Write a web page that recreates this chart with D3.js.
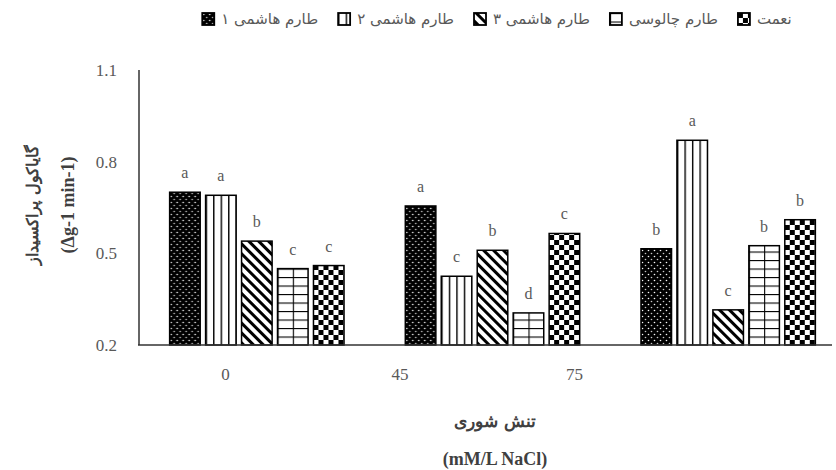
<!DOCTYPE html>
<html>
<head>
<meta charset="utf-8">
<script src="https://cdn.jsdelivr.net/npm/d3@7"></script>
<style>
body { margin: 0; background: #fff; }
</style>
</head>
<body>
<script>
var categories = ["0", "45", "75"];
var series = ["طارم هاشمی ۱", "طارم هاشمی ۲", "طارم هاشمی ۳", "طارم چالوسی", "نعمت"];
var values = [
    [0.70, 0.69, 0.54, 0.45, 0.46],
    [0.655, 0.425, 0.51, 0.305, 0.565],
    [0.515, 0.87, 0.315, 0.525, 0.61]
];
var letters = [
    ["a", "a", "b", "c", "c"],
    ["a", "c", "b", "d", "c"],
    ["b", "a", "c", "b", "b"]
];
var yTicks = [0.2, 0.5, 0.8, 1.1];
var kinds = ["dots", "vert", "diag", "grid", "check"];

var svg = d3.select("body").append("svg").attr("width", 836).attr("height", 470);
var defs = svg.append("defs");

var x0 = d3.scaleBand().domain(categories).range([139, 846]).paddingInner(0.26).paddingOuter(0.13);
var x1 = d3.scaleBand().domain(series).range([0, x0.bandwidth()]).paddingInner(0.15);
var xl = d3.scalePoint().domain(categories).range([225, 574]);
var y = d3.scaleLinear().domain([0.2, 1.1]).range([345, 70]);

// one pattern per shape, anchored at its own corner
function makePattern(id, kind, ox, oy) {
    var p = defs.append("pattern").attr("id", id).attr("patternUnits", "userSpaceOnUse");
    if (kind == "dots") {
        p.attr("width", 6).attr("height", 6).attr("x", ox).attr("y", oy);
        p.append("rect").attr("width", 6).attr("height", 6).attr("fill", "#000");
        p.append("circle").attr("cx", 1.5).attr("cy", 1.5).attr("r", 0.8).attr("fill", "#fff");
        p.append("circle").attr("cx", 4.5).attr("cy", 4.5).attr("r", 0.8).attr("fill", "#ccc");
    } else if (kind == "vert") {
        p.attr("width", 7.5).attr("height", 10).attr("x", ox).attr("y", oy);
        p.append("rect").attr("width", 7.5).attr("height", 10).attr("fill", "#fff");
        p.append("rect").attr("x", 0).attr("width", 1.4).attr("height", 10).attr("fill", "#000");
    } else if (kind == "diag") {
        p.attr("width", 7).attr("height", 10).attr("x", ox).attr("y", oy)
            .attr("patternTransform", "rotate(-45 " + ox + " " + oy + ")");
        p.append("rect").attr("width", 7).attr("height", 10).attr("fill", "#fff");
        p.append("rect").attr("width", 3).attr("height", 10).attr("fill", "#000");
    } else if (kind == "grid") {
        var w = x1.bandwidth() / 2;
        p.attr("width", w).attr("height", 8.5).attr("x", ox).attr("y", oy);
        p.append("rect").attr("width", w).attr("height", 8.5).attr("fill", "#fff");
        p.append("rect").attr("width", 1.1).attr("height", 8.5).attr("fill", "#000");
        p.append("rect").attr("width", w).attr("height", 1.1).attr("fill", "#000");
    } else {
        p.attr("width", 10).attr("height", 10).attr("x", ox).attr("y", oy);
        p.append("rect").attr("width", 10).attr("height", 10).attr("fill", "#fff");
        p.append("rect").attr("width", 5).attr("height", 5).attr("fill", "#000");
        p.append("rect").attr("x", 5).attr("y", 5).attr("width", 5).attr("height", 5).attr("fill", "#000");
    }
}

// bars
var bars = svg.append("g");
for (var c = 0; c < categories.length; c++) {
    for (var s = 0; s < series.length; s++) {
        var bx = x0(categories[c]) + x1(series[s]);
        var id = "p" + c + "_" + s;
        makePattern(id, kinds[s], bx, y(0.2));
        bars.append("rect")
            .attr("x", bx)
            .attr("y", y(values[c][s]))
            .attr("width", x1.bandwidth())
            .attr("height", y(0.2) - y(values[c][s]))
            .attr("fill", "url(#" + id + ")")
            .attr("stroke", "#000")
            .attr("stroke-width", 1.5);
        bars.append("text")
            .text(letters[c][s])
            .attr("x", bx + x1.bandwidth() / 2)
            .attr("y", y(values[c][s]) - 14)
            .attr("text-anchor", "middle")
            .attr("font-family", "Liberation Serif")
            .attr("font-size", 16)
            .attr("fill", "#595959");
    }
}

// axes
var yAxis = svg.append("g").attr("transform", "translate(139,0)")
    .call(d3.axisLeft(y).tickValues(yTicks).tickSize(0).tickPadding(22).tickFormat(d3.format(".1f")));
yAxis.select(".domain").remove();
yAxis.selectAll("text").attr("font-family", "Liberation Serif").attr("font-size", 17).attr("fill", "#595959");

svg.append("line").attr("x1", 139).attr("x2", 139).attr("y1", y(1.1)).attr("y2", y(0.2))
    .attr("stroke", "#333").attr("stroke-width", 1.5);
svg.append("line").attr("x1", 138).attr("x2", 832).attr("y1", y(0.2)).attr("y2", y(0.2))
    .attr("stroke", "#333").attr("stroke-width", 1.5);

var xAxis = svg.append("g").attr("transform", "translate(0,345)")
    .call(d3.axisBottom(xl).tickSize(0).tickPadding(23));
xAxis.select(".domain").remove();
xAxis.selectAll("text").attr("font-family", "Liberation Serif").attr("font-size", 17).attr("fill", "#595959");

// axis titles
svg.append("text").text("تنش شوری")
    .attr("x", 495).attr("y", 427).attr("text-anchor", "middle")
    .attr("font-family", "DejaVu Serif").attr("font-weight", "bold").attr("font-size", 17).attr("fill", "#404040");
svg.append("text").text("(mM/L NaCl)")
    .attr("x", 495).attr("y", 465).attr("text-anchor", "middle")
    .attr("font-family", "Liberation Serif").attr("font-weight", "bold").attr("font-size", 18).attr("fill", "#404040");

var yt = svg.append("g").attr("transform", "translate(0,205) rotate(-90)");
yt.append("text").text("گایاکول پراکسیداز")
    .attr("x", 0).attr("y", 38).attr("text-anchor", "middle")
    .attr("font-family", "DejaVu Serif").attr("font-weight", "bold").attr("font-size", 16).attr("fill", "#404040");
yt.append("text").text("(\u0394g-1 min-1)")
    .attr("x", 0).attr("y", 74).attr("text-anchor", "middle")
    .attr("font-family", "Liberation Serif").attr("font-weight", "bold").attr("font-size", 18).attr("fill", "#404040");

// legend: icon then label, left to right
var legend = svg.append("g");
var lx = 0;
for (var s = 0; s < series.length; s++) {
    var it = legend.append("g");
    makePattern("lg" + s, kinds[s], lx, 13);
    it.append("rect").attr("x", lx).attr("y", 13).attr("width", 12).attr("height", 12)
        .attr("fill", "url(#lg" + s + ")").attr("stroke", "#000").attr("stroke-width", 1.8);
    var t = it.append("text").text(series[s])
        .attr("x", lx + 19).attr("y", 24)
        .attr("font-family", "DejaVu Sans").attr("font-size", 15).attr("fill", "#595959");
    lx = lx + 19 + t.node().getComputedTextLength() + 20;
}
var total = lx - 20;
legend.attr("transform", "translate(" + (497 - total / 2) + ",0)");
</script>
</body>
</html>
